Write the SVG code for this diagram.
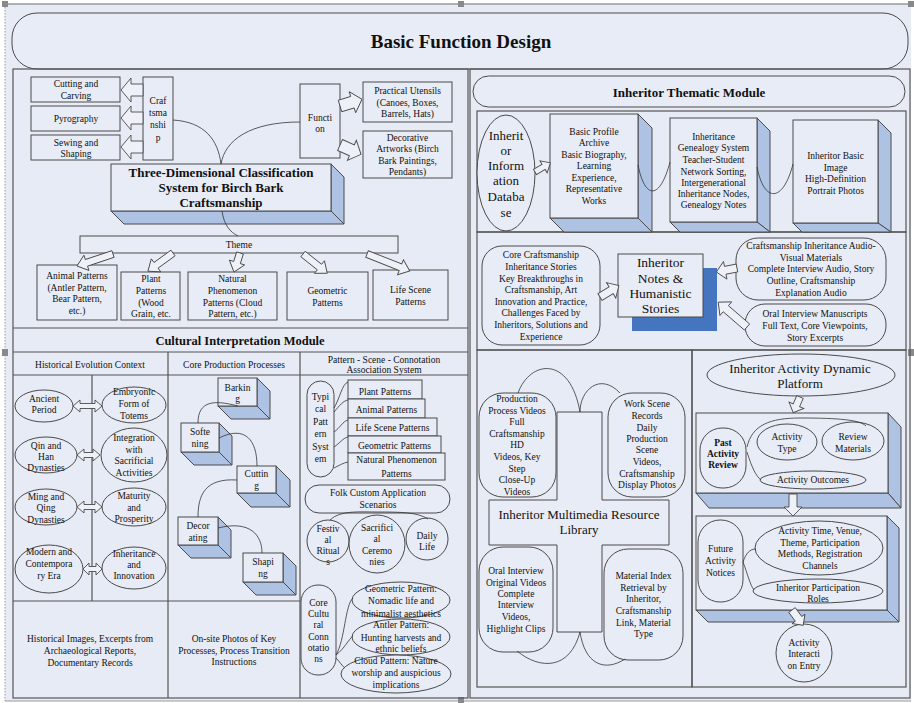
<svg xmlns="http://www.w3.org/2000/svg" width="914" height="703" viewBox="0 0 914 703">
<style>
.t{font-family:"Liberation Serif","Times New Roman",serif;font-size:9.5px;fill:#111;text-anchor:middle}
.b{font-weight:bold}
.m{font-size:13px}
.n{fill:#E8ECF6;stroke:#4a4a4a;stroke-width:1}
.p{fill:none;stroke:#555;stroke-width:1.2}
.sd{fill:#AEC2E3;stroke:#4a4a4a;stroke-width:1}
.c{fill:none;stroke:#333;stroke-width:0.8}
.a{fill:#EEF1F8;stroke:#4a4a4a;stroke-width:0.9}
.h{fill:#8a8a8a}
</style>
<rect x="0" y="0" width="914" height="703" fill="#ffffff"/>
<rect x="5" y="4" width="906" height="697" fill="#E7EBF5"/>
<line x1="5" y1="4" x2="911" y2="4" stroke="#999" stroke-width="1.5"/>
<line x1="5" y1="4" x2="5" y2="701" stroke="#999" stroke-width="1" stroke-dasharray="1.5,1.5"/>
<line x1="5" y1="701" x2="911" y2="701" stroke="#999" stroke-width="1"/>
<g id="handles">
<rect class="h" x="2" y="1" width="6" height="6"/><rect class="h" x="458" y="1" width="6" height="6"/><rect class="h" x="908" y="1" width="6" height="6"/>
<rect class="h" x="2" y="349" width="6" height="7"/><rect class="h" x="908" y="349" width="6" height="7"/>
<rect class="h" x="458" y="697" width="6" height="6"/>
</g>
<g id="title">
<rect class="n" x="12" y="13" width="896" height="56" rx="25"/>
<text class="t b" x="461" y="48" style="font-size:19px">Basic Function Design</text>
</g>
<g id="panels">
<rect class="p" x="13" y="69" width="455" height="629"/>
<line class="p" x1="13" y1="328" x2="468" y2="328"/>
<line class="p" x1="13" y1="352" x2="468" y2="352"/>
<line class="p" x1="13" y1="375" x2="468" y2="375"/>
<line class="p" x1="168" y1="352" x2="168" y2="698"/>
<line class="p" x1="300" y1="352" x2="300" y2="698"/>
<line class="p" x1="92" y1="375" x2="92" y2="601"/>
<line class="p" x1="13" y1="601" x2="300" y2="601"/>
<rect class="p" x="470" y="69" width="440" height="629"/>
<rect class="p" x="477" y="111" width="429" height="121"/>
<rect class="p" x="477" y="232" width="429" height="118"/>
<rect class="p" x="477" y="350" width="215" height="337"/>
<rect class="p" x="692" y="350" width="214" height="337"/>
<text class="t b" x="240" y="345" style="font-size:12.5px">Cultural Interpretation Module</text>
<text class="t" x="90" y="367.5">Historical Evolution Context</text>
<text class="t" x="234" y="367.5">Core Production Processes</text>
<text class="t" x="384" y="362.5">Pattern - Scene - Connotation</text>
<text class="t" x="384" y="373">Association System</text>
<text class="t" x="90"><tspan x="90" y="641.5">Historical Images, Excerpts from</tspan><tspan x="90" y="653.5">Archaeological Reports,</tspan><tspan x="90" y="665.5">Documentary Records</tspan></text>
<text class="t" x="234"><tspan x="234" y="641.5">On-site Photos of Key</tspan><tspan x="234" y="653.5">Processes, Process Transition</tspan><tspan x="234" y="664.5">Instructions</tspan></text>
</g>

<!-- Classification -->
<g id="cutting"><rect class="n" x="31" y="77" width="89" height="25"/><text class="t"><tspan x="76" y="86.5">Cutting and</tspan><tspan x="76" y="98.5">Carving</tspan></text></g>
<g id="pyrography"><rect class="n" x="31" y="106" width="89" height="25"/><text class="t" x="76" y="121.5">Pyrography</text></g>
<g id="sewing"><rect class="n" x="31" y="135" width="89" height="25"/><text class="t"><tspan x="76" y="145.5">Sewing and</tspan><tspan x="76" y="157">Shaping</tspan></text></g>
<g id="craftsmanship"><rect class="n" x="143" y="77" width="30" height="83"/><text class="t"><tspan x="158" y="103.5">Craf</tspan><tspan x="158" y="115.5">tsma</tspan><tspan x="158" y="128">nshi</tspan><tspan x="158" y="140.5">p</tspan></text></g>
<g id="function"><rect class="n" x="300" y="84" width="40" height="74"/><text class="t"><tspan x="320" y="120.5">Functi</tspan><tspan x="320" y="131.5">on</tspan></text></g>
<g id="practical"><rect class="n" x="363" y="82" width="89" height="40"/><text class="t"><tspan x="407.5" y="93.5">Practical Utensils</tspan><tspan x="407.5" y="105.5">(Canoes, Boxes,</tspan><tspan x="407.5" y="116.5">Barrels, Hats)</tspan></text></g>
<g id="decorative"><rect class="n" x="363" y="131" width="89" height="47"/><text class="t"><tspan x="407.5" y="140.5">Decorative</tspan><tspan x="407.5" y="151.5">Artworks (Birch</tspan><tspan x="407.5" y="163.5">Bark Paintings,</tspan><tspan x="407.5" y="175">Pendants)</tspan></text></g>
<g id="classification">
<polygon class="sd" points="331,164 344,177 344,224 331,211"/>
<polygon class="sd" points="111,211 124,224 344,224 331,211"/>
<rect class="n" x="111" y="164" width="220" height="47"/>
<text class="t b" style="font-size:13px"><tspan x="221" y="176.5">Three-Dimensional Classification</tspan><tspan x="221" y="191.5">System for Birch Bark</tspan><tspan x="221" y="206.5">Craftsmanship</tspan></text>
</g>
<g id="theme"><rect class="n" x="80" y="236" width="318" height="17"/><text class="t" x="239" y="247.5">Theme</text></g>
<g id="animal"><rect class="n" x="37" y="265" width="80" height="55"/><text class="t"><tspan x="77" y="278.5">Animal Patterns</tspan><tspan x="77" y="290.5">(Antler Pattern,</tspan><tspan x="77" y="301.5">Bear Pattern,</tspan><tspan x="77" y="313.5">etc.)</tspan></text></g>
<g id="plant"><rect class="n" x="121" y="272" width="59" height="48"/><text class="t"><tspan x="151" y="281.5">Plant</tspan><tspan x="151" y="293.5">Patterns</tspan><tspan x="151" y="305.5">(Wood</tspan><tspan x="151" y="316.5">Grain, etc.</tspan></text></g>
<g id="natural"><rect class="n" x="188" y="272" width="89" height="48"/><text class="t"><tspan x="232.5" y="281.5">Natural</tspan><tspan x="232.5" y="293.5">Phenomenon</tspan><tspan x="232.5" y="305.5">Patterns (Cloud</tspan><tspan x="232.5" y="316.5">Pattern, etc.)</tspan></text></g>
<g id="geometric"><rect class="n" x="287" y="272" width="81" height="48"/><text class="t"><tspan x="327.5" y="293.5">Geometric</tspan><tspan x="327.5" y="305.5">Patterns</tspan></text></g>
<g id="lifescene"><rect class="n" x="373" y="270" width="75" height="50"/><text class="t"><tspan x="410.5" y="292.5">Life Scene</tspan><tspan x="410.5" y="304.5">Patterns</tspan></text></g>

<!-- Historical column -->
<g id="ancient"><ellipse class="n" cx="44" cy="406" rx="29" ry="16"/><text class="t"><tspan x="44" y="401.5">Ancient</tspan><tspan x="44" y="412.5">Period</tspan></text></g>
<g id="embryonic"><ellipse class="n" cx="134" cy="405" rx="32" ry="18"/><text class="t"><tspan x="134" y="395">Embryonic</tspan><tspan x="134" y="406.5">Form of</tspan><tspan x="134" y="418.5">Totems</tspan></text></g>
<g id="qinhan"><ellipse class="n" cx="46" cy="455" rx="31" ry="18"/><text class="t"><tspan x="46" y="448.5">Qin and</tspan><tspan x="46" y="460">Han</tspan><tspan x="46" y="471">Dynasties</tspan></text></g>
<g id="integration"><ellipse class="n" cx="134" cy="455" rx="33" ry="27"/><text class="t"><tspan x="134" y="440.5">Integration</tspan><tspan x="134" y="452.5">with</tspan><tspan x="134" y="464">Sacrificial</tspan><tspan x="134" y="475.5">Activities</tspan></text></g>
<g id="mingqing"><ellipse class="n" cx="46" cy="507" rx="31" ry="18"/><text class="t"><tspan x="46" y="500">Ming and</tspan><tspan x="46" y="511">Qing</tspan><tspan x="46" y="522.5">Dynasties</tspan></text></g>
<g id="maturity"><ellipse class="n" cx="134" cy="507" rx="32" ry="19"/><text class="t"><tspan x="134" y="499">Maturity</tspan><tspan x="134" y="510.5">and</tspan><tspan x="134" y="522">Prosperity</tspan></text></g>
<g id="modern"><ellipse class="n" cx="49" cy="569" rx="34" ry="24"/><text class="t"><tspan x="49" y="555">Modern and</tspan><tspan x="49" y="566.5">Contempora</tspan><tspan x="49" y="578.5">ry Era</tspan></text></g>
<g id="innovation"><ellipse class="n" cx="134" cy="568" rx="32" ry="21"/><text class="t"><tspan x="134" y="556.5">Inheritance</tspan><tspan x="134" y="567.5">and</tspan><tspan x="134" y="578.5">Innovation</tspan></text></g>

<!-- Production cubes -->
<g id="barking"><polygon class="sd" points="257,378 270,391 270,419 257,406"/><polygon class="sd" points="218,406 231,419 270,419 257,406"/><rect class="n" x="218" y="378" width="39" height="28"/><text class="t"><tspan x="237.5" y="390.5">Barkin</tspan><tspan x="237.5" y="401.5">g</tspan></text></g>
<g id="softening"><polygon class="sd" points="219,423 232,436 232,465 219,452"/><polygon class="sd" points="181,452 194,465 232,465 219,452"/><rect class="n" x="181" y="423" width="38" height="29"/><text class="t"><tspan x="200" y="434.5">Softe</tspan><tspan x="200" y="446.5">ning</tspan></text></g>
<g id="cuttingstep"><polygon class="sd" points="276,466 290,480 290,507 276,493"/><polygon class="sd" points="237,493 251,507 290,507 276,493"/><rect class="n" x="237" y="466" width="39" height="27"/><text class="t"><tspan x="256.5" y="476.5">Cuttin</tspan><tspan x="256.5" y="488.5">g</tspan></text></g>
<g id="decorating"><polygon class="sd" points="218,517 231,530 231,558 218,545"/><polygon class="sd" points="178,545 191,558 231,558 218,545"/><rect class="n" x="178" y="517" width="40" height="28"/><text class="t"><tspan x="198" y="528.5">Decor</tspan><tspan x="198" y="540.5">ating</tspan></text></g>
<g id="shaping"><polygon class="sd" points="283,553 296,566 296,595 283,582"/><polygon class="sd" points="243,582 256,595 296,595 283,582"/><rect class="n" x="243" y="553" width="40" height="29"/><text class="t"><tspan x="263" y="564.5">Shapi</tspan><tspan x="263" y="576.5">ng</tspan></text></g>

<!-- Pattern column -->
<g id="typical"><rect class="n" x="307" y="381" width="27" height="96" rx="13.5"/><text class="t"><tspan x="320.5" y="399.5">Typi</tspan><tspan x="320.5" y="412">cal</tspan><tspan x="320.5" y="424.5">Patt</tspan><tspan x="320.5" y="437">ern</tspan><tspan x="320.5" y="449.5">Syst</tspan><tspan x="320.5" y="462">em</tspan></text></g>
<g id="p-plant"><rect class="n" x="348" y="380" width="74" height="19"/><text class="t" x="385" y="394.5">Plant Patterns</text></g>
<g id="p-animal"><rect class="n" x="348" y="399" width="77" height="19"/><text class="t" x="386.5" y="412.5">Animal Patterns</text></g>
<g id="p-life"><rect class="n" x="348" y="418" width="89" height="18"/><text class="t" x="392.5" y="430.5">Life Scene Patterns</text></g>
<g id="p-geo"><rect class="n" x="348" y="436" width="93" height="17"/><text class="t" x="394.5" y="448.5">Geometric Patterns</text></g>
<g id="p-natural"><rect class="n" x="348" y="453" width="97" height="27"/><text class="t"><tspan x="396.5" y="462.5">Natural Phenomenon</tspan><tspan x="396.5" y="476.5">Patterns</tspan></text></g>
<g id="folk"><rect class="n" x="305" y="485" width="145" height="28" rx="14"/><text class="t"><tspan x="378" y="495.5">Folk Custom Application</tspan><tspan x="378" y="507.5">Scenarios</tspan></text></g>
<g id="festival"><ellipse class="n" cx="328" cy="541" rx="21" ry="21"/><text class="t"><tspan x="328" y="531.5">Festiv</tspan><tspan x="328" y="543">al</tspan><tspan x="328" y="554">Ritual</tspan><tspan x="328" y="565">s</tspan></text></g>
<g id="sacrificial"><ellipse class="n" cx="377" cy="544" rx="28" ry="29"/><text class="t"><tspan x="377" y="530.5">Sacrifici</tspan><tspan x="377" y="542">al</tspan><tspan x="377" y="553.5">Ceremo</tspan><tspan x="377" y="565">nies</tspan></text></g>
<g id="daily"><ellipse class="n" cx="427" cy="539" rx="21" ry="21"/><text class="t"><tspan x="427" y="538.5">Daily</tspan><tspan x="427" y="549.5">Life</tspan></text></g>
<g id="core"><rect class="n" x="301" y="585" width="35" height="90" rx="17"/><text class="t"><tspan x="318.5" y="605.5">Core</tspan><tspan x="318.5" y="617">Cultu</tspan><tspan x="318.5" y="628">ral</tspan><tspan x="318.5" y="639.5">Conn</tspan><tspan x="318.5" y="651">otatio</tspan><tspan x="318.5" y="662">ns</tspan></text></g>
<g id="geo-pattern"><ellipse class="n" cx="401" cy="600" rx="49" ry="18"/><text class="t"><tspan x="401" y="591.5">Geometric Pattern:</tspan><tspan x="401" y="603.5">Nomadic life and</tspan><tspan x="401" y="616.5">minimalist aesthetics</tspan></text></g>
<g id="antler-pattern"><ellipse class="n" cx="401" cy="637" rx="49" ry="18"/><text class="t"><tspan x="401" y="627.5">Antler Pattern:</tspan><tspan x="401" y="640.5">Hunting harvests and</tspan><tspan x="401" y="651.5">ethnic beliefs</tspan></text></g>
<g id="cloud-pattern"><ellipse class="n" cx="396" cy="674" rx="55" ry="19"/><text class="t"><tspan x="396" y="663.5">Cloud Pattern: Nature</tspan><tspan x="396" y="675.5">worship and auspicious</tspan><tspan x="396" y="688">implications</tspan></text></g>

<!-- Right: Inheritor Thematic Module -->
<g id="thematic"><rect class="n" x="473" y="76" width="432" height="31" rx="15.5"/><text class="t b" x="689" y="96.5" style="font-size:13px">Inheritor Thematic Module</text></g>
<g id="database"><ellipse class="n" cx="506" cy="173" rx="29" ry="58"/><text class="t m"><tspan x="506" y="139.5">Inherit</tspan><tspan x="506" y="154.5">or</tspan><tspan x="506" y="169.5">Inform</tspan><tspan x="506" y="184.5">ation</tspan><tspan x="506" y="200.5">Databa</tspan><tspan x="506" y="216.5">se</tspan></text></g>
<g id="profile"><polygon class="sd" points="638,114 652,128 652,232 638,218"/><polygon class="sd" points="550,218 564,232 652,232 638,218"/><rect class="n" x="550" y="114" width="88" height="104"/><text class="t"><tspan x="594" y="134.5">Basic Profile</tspan><tspan x="594" y="145.5">Archive</tspan><tspan x="594" y="157.5">Basic Biography,</tspan><tspan x="594" y="168.5">Learning</tspan><tspan x="594" y="180.5">Experience,</tspan><tspan x="594" y="191.5">Representative</tspan><tspan x="594" y="203.5">Works</tspan></text></g>
<g id="genealogy"><polygon class="sd" points="757,118 770,131 770,232 757,222"/><polygon class="sd" points="670,222 680,232 770,232 757,222"/><rect class="n" x="670" y="118" width="87" height="104"/><text class="t"><tspan x="713.5" y="139.5">Inheritance</tspan><tspan x="713.5" y="150.5">Genealogy System</tspan><tspan x="713.5" y="162.5">Teacher-Student</tspan><tspan x="713.5" y="174.5">Network Sorting,</tspan><tspan x="713.5" y="185.5">Intergenerational</tspan><tspan x="713.5" y="196.5">Inheritance Nodes,</tspan><tspan x="713.5" y="207.5">Genealogy Notes</tspan></text></g>
<g id="image"><polygon class="sd" points="878,120 891,133 891,232 878,223"/><polygon class="sd" points="793,223 802,232 891,232 878,223"/><rect class="n" x="793" y="120" width="85" height="103"/><text class="t"><tspan x="835.5" y="158.5">Inheritor Basic</tspan><tspan x="835.5" y="170.5">Image</tspan><tspan x="835.5" y="181.5">High-Definition</tspan><tspan x="835.5" y="193.5">Portrait Photos</tspan></text></g>
<g id="stories"><rect class="n" x="482" y="246" width="118" height="99" rx="20"/><text class="t"><tspan x="541" y="257.5">Core Craftsmanship</tspan><tspan x="541" y="269.5">Inheritance Stories</tspan><tspan x="541" y="281.5">Key Breakthroughs in</tspan><tspan x="541" y="292.5">Craftsmanship, Art</tspan><tspan x="541" y="304.5">Innovation and Practice,</tspan><tspan x="541" y="315.5">Challenges Faced by</tspan><tspan x="541" y="327.5">Inheritors, Solutions and</tspan><tspan x="541" y="339.5">Experience</tspan></text></g>
<g id="notes"><rect x="632" y="268" width="85" height="63" fill="#4675C0"/><rect class="n" x="618" y="254" width="85" height="63"/><text class="t" style="font-size:13.5px"><tspan x="660.5" y="266.5">Inheritor</tspan><tspan x="660.5" y="282.5">Notes &amp;</tspan><tspan x="660.5" y="297.5">Humanistic</tspan><tspan x="660.5" y="312.5">Stories</tspan></text></g>
<g id="audiovisual"><rect class="n" x="736" y="238" width="150" height="62" rx="22"/><text class="t"><tspan x="811" y="248.5">Craftsmanship Inheritance Audio-</tspan><tspan x="811" y="260.5">Visual Materials</tspan><tspan x="811" y="271.5">Complete Interview Audio, Story</tspan><tspan x="811" y="283.5">Outline, Craftsmanship</tspan><tspan x="811" y="295.5">Explanation Audio</tspan></text></g>
<g id="manuscripts"><rect class="n" x="745" y="304" width="141" height="42" rx="20"/><text class="t"><tspan x="815" y="316.5">Oral Interview Manuscripts</tspan><tspan x="815" y="328.5">Full Text, Core Viewpoints,</tspan><tspan x="815" y="340.5">Story Excerpts</tspan></text></g>

<!-- Multimedia library -->
<g id="library"><path class="n" d="M557,412 L602,412 L602,500 L669,500 L669,545 L602,545 L602,632 L557,632 L557,545 L489,545 L489,500 L557,500 Z"/><text class="t m"><tspan x="579" y="518.5">Inheritor Multimedia Resource</tspan><tspan x="579" y="533.5">Library</tspan></text></g>
<g id="production-videos"><rect class="n" x="479" y="393" width="77" height="104" rx="24"/><text class="t"><tspan x="517" y="401.5">Production</tspan><tspan x="517" y="413.5">Process Videos</tspan><tspan x="517" y="424.5">Full</tspan><tspan x="517" y="436.5">Craftsmanship</tspan><tspan x="517" y="447.5">HD</tspan><tspan x="517" y="459.5">Videos, Key</tspan><tspan x="517" y="471.5">Step</tspan><tspan x="517" y="482.5">Close-Up</tspan><tspan x="517" y="494.5">Videos</tspan></text></g>
<g id="work-scene"><rect class="n" x="608" y="393" width="77" height="104" rx="24"/><text class="t"><tspan x="647" y="406.5">Work Scene</tspan><tspan x="647" y="418.5">Records</tspan><tspan x="647" y="430.5">Daily</tspan><tspan x="647" y="441.5">Production</tspan><tspan x="647" y="452.5">Scene</tspan><tspan x="647" y="464.5">Videos,</tspan><tspan x="647" y="476.5">Craftsmanship</tspan><tspan x="647" y="487.5">Display Photos</tspan></text></g>
<g id="oral-videos"><rect class="n" x="479" y="547" width="74" height="105" rx="24"/><text class="t"><tspan x="516" y="573.5">Oral Interview</tspan><tspan x="516" y="585.5">Original Videos</tspan><tspan x="516" y="596.5">Complete</tspan><tspan x="516" y="607.5">Interview</tspan><tspan x="516" y="619.5">Videos,</tspan><tspan x="516" y="631.5">Highlight Clips</tspan></text></g>
<g id="material-index"><rect class="n" x="604" y="549" width="79" height="111" rx="24"/><text class="t"><tspan x="643.5" y="578.5">Material Index</tspan><tspan x="643.5" y="590.5">Retrieval by</tspan><tspan x="643.5" y="601.5">Inheritor,</tspan><tspan x="643.5" y="613.5">Craftsmanship</tspan><tspan x="643.5" y="625.5">Link, Material</tspan><tspan x="643.5" y="636.5">Type</tspan></text></g>

<!-- Activity platform -->
<g id="platform"><ellipse class="n" cx="801" cy="375" rx="94" ry="21"/><text class="t m"><tspan x="800" y="372.5">Inheritor Activity Dynamic</tspan><tspan x="800" y="387.5">Platform</tspan></text></g>
<g id="past-box"><polygon class="sd" points="888,413 901,427 901,508 888,493"/><polygon class="sd" points="696,493 709,508 901,508 888,493"/><rect class="n" x="696" y="413" width="192" height="80"/></g>
<g id="past-review"><rect class="n" x="700" y="428" width="46" height="60" rx="22"/><text class="t b"><tspan x="723" y="445.5">Past</tspan><tspan x="723" y="456.5">Activity</tspan><tspan x="723" y="467.5">Review</tspan></text></g>
<g id="activity-type"><ellipse class="n" cx="787" cy="442" rx="30" ry="18"/><text class="t"><tspan x="787" y="439.5">Activity</tspan><tspan x="787" y="451.5">Type</tspan></text></g>
<g id="review-materials"><ellipse class="n" cx="853" cy="441" rx="31" ry="19"/><text class="t"><tspan x="853" y="439.5">Review</tspan><tspan x="853" y="451.5">Materials</tspan></text></g>
<g id="outcomes"><ellipse class="n" cx="813" cy="480" rx="53" ry="9"/><text class="t" x="813" y="482.5">Activity Outcomes</text></g>
<g id="future-box"><polygon class="sd" points="887,516 899,528 899,622 887,610"/><polygon class="sd" points="696,610 708,622 899,622 887,610"/><rect class="n" x="696" y="516" width="191" height="94"/></g>
<g id="future"><rect class="n" x="698" y="520" width="45" height="82" rx="22"/><text class="t"><tspan x="720.5" y="551.5">Future</tspan><tspan x="720.5" y="563.5">Activity</tspan><tspan x="720.5" y="575.5">Notices</tspan></text></g>
<g id="activity-time"><ellipse class="n" cx="819" cy="548" rx="64" ry="27"/><text class="t"><tspan x="820" y="533.5">Activity Time, Venue,</tspan><tspan x="820" y="545.5">Theme, Participation</tspan><tspan x="820" y="556.5">Methods, Registration</tspan><tspan x="820" y="568.5">Channels</tspan></text></g>
<g id="roles"><ellipse class="n" cx="818" cy="591" rx="65" ry="12"/><text class="t"><tspan x="818" y="591">Inheritor Participation</tspan><tspan x="818" y="601.5">Roles</tspan></text></g>
<g id="interaction"><ellipse class="n" cx="804" cy="653" rx="28" ry="29"/><text class="t"><tspan x="804" y="645.5">Activity</tspan><tspan x="804" y="656.5">Interacti</tspan><tspan x="804" y="668.5">on Entry</tspan></text></g>

<g id="connectors">
<path class="c" d="M173,120 C205,122 218,140 221,164"/>
<path class="c" d="M300,122 C250,122 225,140 221,164"/>
<path class="c" d="M222,211 C224,225 230,232 238,236"/>
<path class="c" d="M198,423 C198,400 215,400 238,406"/>
<path class="c" d="M219,438 C245,425 257,440 257,466"/>
<path class="c" d="M237,480 C205,478 198,495 198,517"/>
<path class="c" d="M218,528 C250,520 262,535 262,553"/>
<path class="c" d="M334,408 C340,398 342,384 348,382"/>
<path class="c" d="M334,412 C340,405 343,401 348,400"/>
<path class="c" d="M334,432 C340,428 343,421 348,420"/>
<path class="c" d="M334,447 C340,443 343,438 348,437"/>
<path class="c" d="M334,468 C340,465 343,463 348,462"/>
<path class="c" d="M330,520 C340,510 360,512 378,512 C398,512 418,512 428,519"/>
<path class="c" d="M336,655 C345,640 345,605 353,598"/>
<path class="c" d="M336,655 C345,648 348,640 353,636"/>
<path class="c" d="M336,658 C340,662 342,666 345,668"/>
<path class="c" d="M638,165 C645,200 660,200 670,162"/>
<path class="c" d="M757,167 C764,203 783,203 793,164"/>
<path class="c" d="M518,393 C530,360 570,355 580,412"/>
<path class="c" d="M580,412 C580,390 600,372 620,393"/>
<path class="c" d="M517,651 C540,670 570,670 580,632"/>
<path class="c" d="M580,632 C585,665 605,672 625,659"/>
<path class="c" d="M747,447 C752,425 770,418 800,418 C840,418 860,420 866,426"/>
<path class="c" d="M747,452 C752,468 756,476 761,480"/>
<path class="c" d="M743,562 C746,553 750,549 756,549"/>
<path class="c" d="M743,562 C748,575 750,585 754,590"/>
</g>
<g id="arrows">
<path class="a" transform="translate(143,90) rotate(180)" d="M0,-6 L12,-6 L12,-12 L22,0 L12,12 L12,6 L0,6 Z"/>
<path class="a" transform="translate(143,118) rotate(180)" d="M0,-6 L12,-6 L12,-12 L22,0 L12,12 L12,6 L0,6 Z"/>
<path class="a" transform="translate(143,147) rotate(180)" d="M0,-6 L12,-6 L12,-12 L22,0 L12,12 L12,6 L0,6 Z"/>
<path class="a" transform="translate(340,106) rotate(-17)" d="M0,-6 L13,-6 L13,-11 L23,0 L13,11 L13,6 L0,6 Z"/>
<path class="a" transform="translate(340,145) rotate(24)" d="M0,-6 L13,-6 L13,-11 L23,0 L13,11 L13,6 L0,6 Z"/>
<path class="a" transform="translate(113,254) rotate(161.6)" d="M0,-3.5 L28,-3.5 L28,-8 L38,0 L28,8 L28,3.5 L0,3.5 Z"/>
<path class="a" transform="translate(173,253) rotate(144)" d="M0,-3.5 L21,-3.5 L21,-8 L31,0 L21,8 L21,3.5 L0,3.5 Z"/>
<path class="a" transform="translate(240,253) rotate(107.5)" d="M0,-3.5 L10,-3.5 L10,-8 L20,0 L10,8 L10,3.5 L0,3.5 Z"/>
<path class="a" transform="translate(303,254) rotate(38.4)" d="M0,-3.5 L21,-3.5 L21,-8 L31,0 L21,8 L21,3.5 L0,3.5 Z"/>
<path class="a" transform="translate(367,254) rotate(21.6)" d="M0,-3.5 L36,-3.5 L36,-8 L46,0 L36,8 L36,3.5 L0,3.5 Z"/>
<path class="a" transform="translate(73,406)" d="M0,0 L7,-6 L7,-2.5 L22,-2.5 L22,-6 L29,0 L22,6 L22,2.5 L7,2.5 L7,6 Z"/>
<path class="a" transform="translate(77,455)" d="M0,0 L7,-6 L7,-2.5 L16,-2.5 L16,-6 L23,0 L16,6 L16,2.5 L7,2.5 L7,6 Z"/>
<path class="a" transform="translate(77,507)" d="M0,0 L7,-6 L7,-2.5 L18,-2.5 L18,-6 L25,0 L18,6 L18,2.5 L7,2.5 L7,6 Z"/>
<path class="a" transform="translate(83,569)" d="M0,0 L6,-6 L6,-2.5 L13,-2.5 L13,-6 L19,0 L13,6 L13,2.5 L6,2.5 L6,6 Z"/>
<path class="a" transform="translate(535,172) rotate(-31)" d="M0,-3 L10,-3 L10,-7 L18,0 L10,7 L10,3 L0,3 Z"/>
<path class="a" transform="translate(600,297) rotate(-31)" d="M0,-4 L13,-4 L13,-9 L22,0 L13,9 L13,4 L0,4 Z"/>
<path class="a" transform="translate(737,268) rotate(169)" d="M0,-4 L12,-4 L12,-9 L21,0 L12,9 L12,4 L0,4 Z"/>
<path class="a" transform="translate(747,327) rotate(220.8)" d="M0,-4 L28,-4 L28,-9 L38,0 L28,9 L28,4 L0,4 Z"/>
<path class="a" transform="translate(800,397) rotate(113.6)" d="M0,-3.5 L9,-3.5 L9,-8 L17,0 L9,8 L9,3.5 L0,3.5 Z"/>
<path class="a" transform="translate(793,494) rotate(90)" d="M0,-4 L13,-4 L13,-9 L22,0 L13,9 L13,4 L0,4 Z"/>
<path class="a" transform="translate(792,610) rotate(53.7)" d="M0,-4 L11,-4 L11,-8 L19,0 L11,8 L11,4 L0,4 Z"/>
</g>
</svg>
